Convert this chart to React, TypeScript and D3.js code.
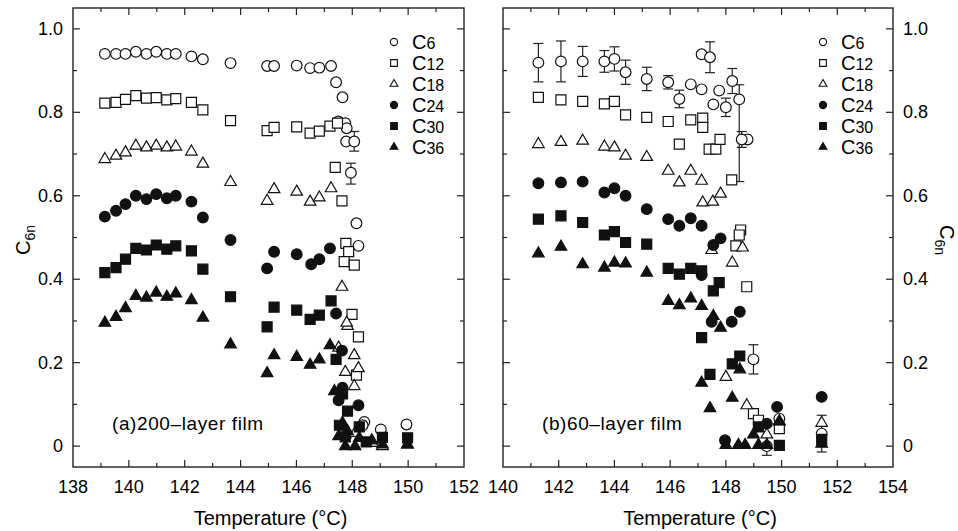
import React, { useEffect, useRef } from 'react';
import * as d3 from 'd3';

// series names, in legend order
const seriesNames = ['6', '12', '18', '24', '30', '36'];
const seriesShapes = ['circle', 'square', 'triangle', 'circle', 'square', 'triangle'];
const seriesFilled = [false, false, false, true, true, true];

// (a) 200-layer film: [temperature, C6n]
const a_C6 = [[139.14,0.94],[139.54,0.94],[139.88,0.94],[140.25,0.945],[140.63,0.94],[140.98,0.945],[141.36,0.94],[141.68,0.94],[142.24,0.934],[142.65,0.927],[143.64,0.918],[144.95,0.911],[145.2,0.911],[146.01,0.912],[146.49,0.906],[146.82,0.907],[147.24,0.911],[147.42,0.872],[147.65,0.836],[147.5,0.778],[147.75,0.774],[147.8,0.762],[147.78,0.73],[148.15,0.534],[148.22,0.48],[148.43,0.058],[148.37,0.05],[149.02,0.04],[149.94,0.052]];
const a_C6err = [[148.07,0.73,0.707,0.754],[147.95,0.655,0.628,0.678]];
const a_C12 = [[139.14,0.822],[139.54,0.824],[139.88,0.831],[140.25,0.84],[140.63,0.834],[140.98,0.835],[141.36,0.83],[141.68,0.833],[142.24,0.824],[142.65,0.806],[143.64,0.78],[144.95,0.756],[145.2,0.764],[146.01,0.765],[146.49,0.75],[146.82,0.755],[147.2,0.767],[147.47,0.774],[147.39,0.668],[147.63,0.588],[147.77,0.486],[147.87,0.466],[147.71,0.442],[148.07,0.434],[147.99,0.316],[148.22,0.262],[148.15,0.17]];
const a_C18 = [[139.14,0.69],[139.54,0.698],[139.88,0.706],[140.25,0.722],[140.63,0.718],[140.98,0.722],[141.36,0.718],[141.68,0.72],[142.24,0.708],[142.65,0.679],[143.64,0.635],[144.95,0.59],[145.2,0.618],[146.01,0.612],[146.49,0.588],[146.82,0.598],[147.24,0.62],[147.63,0.384],[147.83,0.29],[147.8,0.298],[148.07,0.22],[147.75,0.18],[148.22,0.189],[148.07,0.146],[147.51,0.238],[147.75,0.03],[148.1,0.034],[148.72,0.01],[149.08,0.002],[149.97,0.006]];
const a_C24 = [[139.14,0.55],[139.54,0.564],[139.88,0.58],[140.25,0.6],[140.63,0.592],[140.98,0.604],[141.36,0.594],[141.68,0.6],[142.24,0.586],[142.65,0.548],[143.64,0.494],[144.95,0.426],[145.2,0.466],[146.01,0.46],[146.53,0.436],[146.82,0.448],[147.2,0.474],[147.42,0.318],[147.63,0.229],[147.65,0.14],[147.51,0.11],[148.22,0.098]];
const a_C30 = [[139.14,0.416],[139.54,0.428],[139.88,0.448],[140.25,0.474],[140.63,0.47],[140.98,0.482],[141.36,0.472],[141.68,0.48],[142.24,0.468],[142.65,0.424],[143.64,0.358],[144.95,0.286],[145.2,0.333],[146.01,0.326],[146.49,0.304],[146.82,0.314],[147.24,0.348],[147.42,0.208],[147.65,0.125],[147.83,0.084],[147.54,0.05],[148.25,0.046],[147.75,0.022],[148.5,0.01],[149.08,0.021],[149.98,0.02]];
const a_C36 = [[139.14,0.298],[139.54,0.312],[139.88,0.333],[140.25,0.362],[140.63,0.358],[140.98,0.37],[141.36,0.36],[141.68,0.368],[142.24,0.352],[142.65,0.31],[143.64,0.246],[144.95,0.177],[145.2,0.22],[146.01,0.216],[146.49,0.197],[146.82,0.21],[147.2,0.244],[147.36,0.134],[147.65,0.058],[147.51,0.026],[147.75,0.002],[148.1,0.002],[147.83,0.038],[148.25,0.022],[148.7,0.016],[149.08,0.006],[149.98,0.006]];

// (b) 60-layer film
const b_C6 = [[146.74,0.867],[147.13,0.855],[147.13,0.939],[147.76,0.852],[147.55,0.819],[148.78,0.735],[149.92,0.066]];
const b_C6err = [[141.27,0.919,0.873,0.965],[142.08,0.922,0.873,0.971],[142.86,0.922,0.886,0.958],[143.64,0.922,0.896,0.948],[144.0,0.928,0.899,0.957],[144.4,0.896,0.867,0.925],[145.16,0.88,0.852,0.908],[145.93,0.872,0.856,0.888],[146.33,0.832,0.811,0.853],[147.43,0.932,0.895,0.969],[148.0,0.812,0.79,0.834],[148.23,0.875,0.845,0.905],[148.48,0.831,0.634,0.866],[148.57,0.735,0.716,0.754],[148.99,0.208,0.173,0.243],[149.47,0.0,-0.022,0.022],[151.44,0.03,-0.014,0.074]];
const b_C12 = [[141.27,0.836],[142.08,0.83],[142.86,0.826],[143.64,0.82],[144.0,0.826],[144.4,0.794],[145.16,0.788],[145.93,0.778],[146.74,0.782],[147.17,0.786],[147.17,0.764],[146.33,0.724],[147.4,0.712],[147.64,0.712],[147.79,0.735],[148.21,0.638],[148.53,0.518],[148.48,0.506],[148.36,0.48],[148.75,0.382],[148.99,0.078],[149.17,0.062],[149.92,0.042]];
const b_C18 = [[141.27,0.726],[142.08,0.731],[142.86,0.734],[143.64,0.72],[144.0,0.718],[144.4,0.698],[145.16,0.695],[145.93,0.662],[146.33,0.634],[146.74,0.662],[147.13,0.638],[147.17,0.586],[147.53,0.588],[147.81,0.607],[147.49,0.472],[148.6,0.478],[148.23,0.442],[148.0,0.168],[148.75,0.1],[149.47,0.03],[149.92,0.062],[151.44,0.058]];
const b_C24 = [[141.27,0.63],[142.08,0.632],[142.86,0.634],[143.64,0.608],[144.0,0.618],[144.4,0.6],[145.16,0.568],[145.93,0.544],[146.33,0.528],[146.74,0.546],[147.13,0.528],[147.55,0.482],[147.81,0.498],[147.13,0.41],[147.49,0.298],[148.21,0.298],[148.5,0.322],[149.84,0.094],[149.47,0.054],[147.97,0.014],[151.44,0.118]];
const b_C30 = [[141.27,0.544],[142.08,0.552],[142.86,0.536],[143.64,0.506],[144.0,0.514],[144.4,0.488],[145.16,0.484],[145.93,0.426],[146.33,0.412],[146.74,0.426],[147.13,0.42],[147.55,0.372],[147.76,0.392],[147.13,0.26],[147.43,0.172],[148.23,0.197],[148.5,0.216],[149.17,0.046],[149.92,0.002],[151.44,0.016]];
const b_C36 = [[141.27,0.464],[142.08,0.48],[142.86,0.438],[143.64,0.43],[144.0,0.442],[144.4,0.44],[145.16,0.418],[145.93,0.35],[146.33,0.34],[146.74,0.356],[147.13,0.338],[147.55,0.314],[147.81,0.286],[147.13,0.154],[147.43,0.093],[148.23,0.118],[148.5,0.186],[148.0,0.005],[148.45,0.005],[148.69,0.005],[148.99,0.03],[149.17,0.005],[149.47,0.005],[149.92,0.061],[151.44,0.008]];

const yTicks = [0, 0.2, 0.4, 0.6, 0.8, 1.0];
const yTickLabels = ['0', '0.2', '0.4', '0.6', '0.8', '1.0'];

const panels = [
  { left: 73, right: 464, xDomain: [138, 152], xTicks: [138, 140, 142, 144, 146, 148, 150, 152],
    series: [a_C6, a_C12, a_C18, a_C24, a_C30, a_C36], errs: a_C6err,
    title: '(a)200\u2013layer film', yLabelSide: 'left', legendX: 394 },
  { left: 503, right: 893, xDomain: [140, 154], xTicks: [140, 142, 144, 146, 148, 150, 152, 154],
    series: [b_C6, b_C12, b_C18, b_C24, b_C30, b_C36], errs: b_C6err,
    title: '(b)60\u2013layer film', yLabelSide: 'right', legendX: 823 },
];

const FONT = 'Liberation Sans, Arial, sans-serif';

const symbolFor = (shape: string, scale: number) => {
  const type = shape === 'circle' ? d3.symbolCircle : shape === 'square' ? d3.symbolSquare : d3.symbolTriangle;
  const size = shape === 'circle' ? 90 : shape === 'square' ? 100 : 58;
  return d3.symbol().type(type).size(size * scale)();
};

const App = () => {
  const ref = useRef<SVGSVGElement>(null);

  useEffect(() => {
    document.body.style.margin = '0';
    const svg = d3.select(ref.current);
    svg.selectAll('*').remove();
    svg.append('rect').attr('width', 958).attr('height', 531).attr('fill', '#fff');

    const top = 8, bottom = 467;

    panels.forEach((p) => {
      const x = d3.scaleLinear().domain(p.xDomain).range([p.left, p.right]);
      const y = d3.scaleLinear().domain([-0.05, 1.05]).range([bottom, top]);
      const g = svg.append('g');

      // frame
      g.append('rect')
        .attr('x', p.left).attr('y', top)
        .attr('width', p.right - p.left).attr('height', bottom - top)
        .attr('fill', 'none').attr('stroke', '#222').attr('stroke-width', 1.4);

      // x ticks every 1 degree, top and bottom, inward
      d3.range(p.xDomain[0] + 1, p.xDomain[1]).forEach((t) => {
        const len = t % 2 === 0 ? 7 : 4;
        g.append('line').attr('x1', x(t)).attr('x2', x(t)).attr('y1', bottom).attr('y2', bottom - len)
          .attr('stroke', '#222').attr('stroke-width', 1.2);
        g.append('line').attr('x1', x(t)).attr('x2', x(t)).attr('y1', top).attr('y2', top + len)
          .attr('stroke', '#222').attr('stroke-width', 1.2);
      });
      // y ticks every 0.1 on both sides
      d3.range(0, 11).forEach((i) => {
        const v = i / 10;
        const len = i % 2 === 0 ? 7 : 4;
        g.append('line').attr('x1', p.left).attr('x2', p.left + len).attr('y1', y(v)).attr('y2', y(v))
          .attr('stroke', '#222').attr('stroke-width', 1.2);
        g.append('line').attr('x1', p.right).attr('x2', p.right - len).attr('y1', y(v)).attr('y2', y(v))
          .attr('stroke', '#222').attr('stroke-width', 1.2);
      });

      // x tick labels
      g.selectAll('.xl').data(p.xTicks).enter().append('text')
        .attr('x', (d) => x(d)).attr('y', 493)
        .attr('text-anchor', 'middle').attr('font-family', FONT).attr('font-size', 18)
        .text((d) => d);

      // y tick labels
      const onLeft = p.yLabelSide === 'left';
      g.selectAll('.yl').data(yTicks).enter().append('text')
        .attr('x', onLeft ? p.left - 10 : p.right + 10)
        .attr('y', (d) => y(d) + 6)
        .attr('text-anchor', onLeft ? 'end' : 'start')
        .attr('font-family', FONT).attr('font-size', 18)
        .text((_, i) => yTickLabels[i]);

      // x axis title
      g.append('text').attr('x', (p.left + p.right) / 2 + 2).attr('y', 525)
        .attr('text-anchor', 'middle').attr('font-family', FONT).attr('font-size', 20)
        .text('Temperature (\u00b0C)');

      // y axis title
      const yt = g.append('text')
        .attr('transform', onLeft ? 'translate(30,240) rotate(-90)' : 'translate(940,240) rotate(90)')
        .attr('text-anchor', 'middle').attr('font-family', FONT).attr('font-size', 20);
      yt.append('tspan').text('C');
      yt.append('tspan').attr('font-size', 14).attr('dy', 5).text('6n');

      // panel label
      g.append('text').attr('x', p.left + 39).attr('y', 430)
        .attr('font-family', FONT).attr('font-size', 19).attr('letter-spacing', 0.6)
        .text(p.title);

      // error bars
      const eg = g.append('g').attr('stroke', '#222').attr('stroke-width', 1.2);
      p.errs.forEach((d) => {
        eg.append('line').attr('x1', x(d[0])).attr('x2', x(d[0])).attr('y1', y(d[2])).attr('y2', y(d[3]));
        [d[2], d[3]].forEach((e) => {
          eg.append('line').attr('x1', x(d[0]) - 5).attr('x2', x(d[0]) + 5).attr('y1', y(e)).attr('y2', y(e));
        });
      });

      // markers
      p.series.forEach((data, si) => {
        const pts = si === 0 ? data.concat(p.errs.map((e) => [e[0], e[1]])) : data;
        const path = symbolFor(seriesShapes[si], 1);
        const dy = seriesShapes[si] === 'triangle' ? 1 : 0;
        g.append('g').selectAll('path').data(pts).enter().append('path')
          .attr('d', path)
          .attr('transform', (d) => `translate(${x(d[0])},${y(d[1]) + dy})`)
          .attr('fill', seriesFilled[si] ? '#111' : '#fff')
          .attr('stroke', '#111').attr('stroke-width', 1.2);
      });

      // legend
      seriesNames.forEach((n, i) => {
        const ly = 42 + i * 21;
        g.append('path').attr('d', symbolFor(seriesShapes[i], 0.45))
          .attr('transform', `translate(${p.legendX},${ly})`)
          .attr('fill', seriesFilled[i] ? '#111' : '#fff').attr('stroke', '#111').attr('stroke-width', 1.1);
        const t = g.append('text').attr('x', p.legendX + 18).attr('y', ly + 7)
          .attr('font-family', FONT).attr('font-size', 20);
        t.append('tspan').text('C');
        t.append('tspan').attr('font-size', 16).text(n);
      });
    });
  }, []);

  return <svg ref={ref} width={958} height={531} style={{ display: 'block' }} />;
};

export default App;
